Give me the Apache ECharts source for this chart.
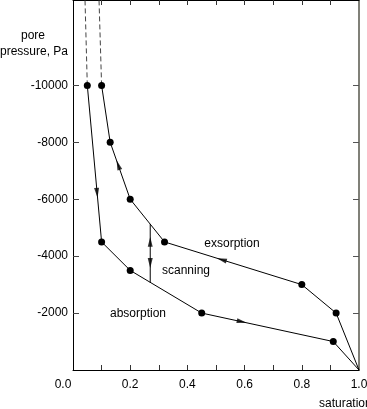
<!DOCTYPE html>
<html><head><meta charset="utf-8">
<script src="https://cdn.jsdelivr.net/npm/echarts@6/dist/echarts.min.js"></script>
<style>html,body{margin:0;padding:0;background:#fff}#c{width:367px;height:409px}</style>
</head><body><div id="c"></div>
<script>
// ---- data ----
const exsorption = [[1.0,0],[0.92,-2000],[0.80,-3000],[0.32,-4500],[0.20,-6000],[0.13,-8000],[0.10,-10000]];
const absorption = [[0.05,-10000],[0.10,-4500],[0.20,-3500],[0.45,-2000],[0.91,-1000],[1.0,0]];
const exsorptionExt = [[0.10,-10000],[0.091,-13000]];
const absorptionExt = [[0.05,-10000],[0.042,-13000]];
const scanning = [[0.27,-5130],[0.27,-3070]];
// arrow heads: x, y, direction dx, dy (data units)
const arrows = [
  [0.52,-3875,-0.48,-1500],
  [0.158,-7200,-0.07,-2000],
  [0.084,-6224,0.05,5500],
  [0.59,-1696,0.46,1000],
  [0.27,-4510,0,-1000],
  [0.27,-3760,0,1000]
];
const xTicks = [0.1,0.2,0.3,0.4,0.5,0.6,0.7,0.8,0.9];
const xLabels = [0,0.2,0.4,0.6,0.8,1.0];
const yTicks = [-10000,-8000,-6000,-4000,-2000];
const annotations = [
  {text:'exsorption', x:232, y:244},
  {text:'scanning', x:186, y:271},
  {text:'absorption', x:138, y:314}
];

const FONT = "'Liberation Sans', Arial, sans-serif";
const chart = echarts.init(document.getElementById('c'), null, {renderer:'canvas'});

function txt(t, x, y, align) {
  return {type:'text', x:x, y:y, silent:true,
    style:{text:t, fontSize:12, fontFamily:FONT, fill:'#000', align:align||'center', verticalAlign:'middle'}};
}

const lineStyleBlack = {color:'#000', width:1};
function curve(data) {
  return {type:'line', xAxisIndex:0, yAxisIndex:0, symbol:'circle', symbolSize:7,
    itemStyle:{color:'#000'}, lineStyle:lineStyleBlack, animation:false,
    data: data.map(p => (p[0]===1 && p[1]===0) ? {value:p, symbol:'none'} : {value:p})};
}
function dashed(data) {
  return {type:'line', symbol:'none', lineStyle:{color:'#444', width:1, type:[5,3]}, animation:false, data:data};
}

const option = {
  backgroundColor:'#fff',
  animation:false,
  grid:{left:73, right:8, top:0, bottom:39, containLabel:false, outerBoundsMode:'none'},
  xAxis:[
    {type:'value', position:'bottom', min:0, max:1,
     axisLine:{show:true, onZero:false, lineStyle:{color:'#000', width:1}},
     axisTick:{show:true, inside:true, length:5, lineStyle:{color:'#333'}, customValues:xTicks},
     axisLabel:{show:true, customValues:xLabels, margin:9, color:'#000', fontSize:12, fontFamily:FONT,
       formatter:v => v===0 ? '{z|0.0}' : v.toFixed(1),
       rich:{z:{fontSize:12, fontFamily:FONT, color:'#000', padding:[0,20,0,0]}}},
     splitLine:{show:false}},
    {type:'value', position:'top', min:0, max:1,
     axisLine:{show:true, onZero:false, lineStyle:{color:'#000', width:1}},
     axisTick:{show:true, inside:true, length:5, lineStyle:{color:'#333'}, customValues:xTicks},
     axisLabel:{show:false}, splitLine:{show:false}}
  ],
  yAxis:[
    {type:'value', position:'left', inverse:true, min:-13000, max:0,
     axisLine:{show:true, onZero:false, lineStyle:{color:'#000', width:1}},
     axisTick:{show:true, inside:true, length:6, lineStyle:{color:'#444'}, customValues:yTicks},
     axisLabel:{show:true, customValues:yTicks, margin:5, color:'#000', fontSize:12, fontFamily:FONT,
       formatter:v => String(v)},
     splitLine:{show:false}},
    {type:'value', position:'right', inverse:true, min:-13000, max:0,
     axisLine:{show:true, onZero:false, lineStyle:{color:'#808078', width:2}},
     axisTick:{show:true, inside:true, length:6, lineStyle:{color:'#555'}, customValues:yTicks},
     axisLabel:{show:false}, splitLine:{show:false}}
  ],
  series:[
    dashed(exsorptionExt),
    dashed(absorptionExt),
    curve(exsorption),
    curve(absorption),
    {type:'line', symbol:'none', lineStyle:lineStyleBlack, data:scanning},
    {type:'scatter', symbol:'triangle', symbolSize:[5,10], itemStyle:{color:'#000'},
     data: arrows.map(a => ({value:[a[0],a[1]], symbolRotate:0}))}
  ],
  graphic:[
    txt('pore', 33, 36),
    txt('pressure, Pa', 34, 52),
    txt('saturation', 319, 404, 'left')
  ].concat(annotations.map(a => txt(a.text, a.x, a.y)))
};
chart.setOption(option);

// orient arrow heads along their curve direction in pixel space
const arrowData = arrows.map(a => {
  const p0 = chart.convertToPixel({gridIndex:0}, [a[0], a[1]]);
  const p1 = chart.convertToPixel({gridIndex:0}, [a[0]+a[2], a[1]+a[3]]);
  const ang = Math.atan2(-(p1[1]-p0[1]), p1[0]-p0[0]) * 180 / Math.PI;
  return {value:[a[0], a[1]], symbolRotate: ang - 90};
});
chart.setOption({series:[{},{},{},{},{},{data:arrowData}]});
</script>
</body></html>
